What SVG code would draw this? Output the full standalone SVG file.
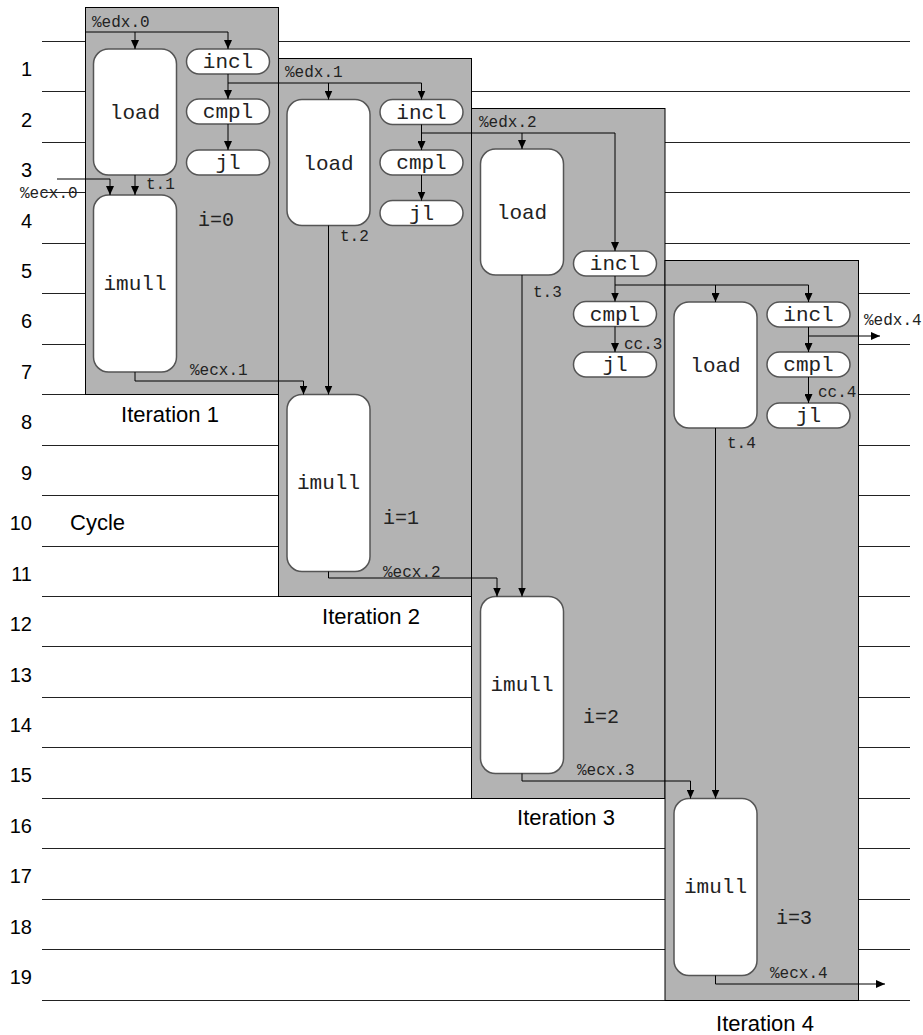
<svg xmlns="http://www.w3.org/2000/svg" width="923" height="1035" viewBox="0 0 923 1035">
<defs>
<style>
.row{stroke:#222;stroke-width:1}
.iter{fill:#b3b3b3;stroke:#000;stroke-width:1}
.op{fill:#fff;stroke:#555;stroke-width:1.5}
.opt{font-family:"Liberation Mono",monospace;font-size:21px;fill:#222;text-anchor:middle}
.lbl{font-family:"Liberation Mono",monospace;font-size:16px;fill:#222}
.idx{font-family:"Liberation Mono",monospace;font-size:20px;fill:#222}
.num{font-family:"Liberation Sans",Arial,sans-serif;font-size:20px;fill:#000;text-anchor:end}
.cap{font-family:"Liberation Sans",Arial,sans-serif;font-size:22px;fill:#000}
.capm{font-family:"Liberation Sans",Arial,sans-serif;font-size:22px;fill:#000;text-anchor:middle}
.wire{fill:none;stroke:#000;stroke-width:1}
</style>
<marker id="arr" markerWidth="9" markerHeight="8" refX="9" refY="4" orient="auto" markerUnits="userSpaceOnUse">
<path d="M0,0 L9,4 L0,8 z" fill="#000"/>
</marker>
</defs>
<rect width="923" height="1035" fill="#fff"/>
<g id="rows">
<line class="row" x1="42" y1="41.5" x2="910" y2="41.5"/>
<line class="row" x1="42" y1="91.5" x2="910" y2="91.5"/>
<line class="row" x1="42" y1="142.5" x2="910" y2="142.5"/>
<line class="row" x1="42" y1="192.5" x2="910" y2="192.5"/>
<line class="row" x1="42" y1="243.5" x2="910" y2="243.5"/>
<line class="row" x1="42" y1="293.5" x2="910" y2="293.5"/>
<line class="row" x1="42" y1="344.5" x2="910" y2="344.5"/>
<line class="row" x1="42" y1="394.5" x2="910" y2="394.5"/>
<line class="row" x1="42" y1="445.5" x2="910" y2="445.5"/>
<line class="row" x1="42" y1="495.5" x2="910" y2="495.5"/>
<line class="row" x1="42" y1="546.5" x2="910" y2="546.5"/>
<line class="row" x1="42" y1="596.5" x2="910" y2="596.5"/>
<line class="row" x1="42" y1="646.5" x2="910" y2="646.5"/>
<line class="row" x1="42" y1="697.5" x2="910" y2="697.5"/>
<line class="row" x1="42" y1="747.5" x2="910" y2="747.5"/>
<line class="row" x1="42" y1="798.5" x2="910" y2="798.5"/>
<line class="row" x1="42" y1="848.5" x2="910" y2="848.5"/>
<line class="row" x1="42" y1="899.5" x2="910" y2="899.5"/>
<line class="row" x1="42" y1="949.5" x2="910" y2="949.5"/>
<line class="row" x1="42" y1="1000.5" x2="910" y2="1000.5"/>
</g>
<g id="row-labels">
<text class="num" x="32" y="76">1</text>
<text class="num" x="32" y="126.5">2</text>
<text class="num" x="32" y="177">3</text>
<text class="num" x="32" y="227.5">4</text>
<text class="num" x="32" y="278">5</text>
<text class="num" x="32" y="328">6</text>
<text class="num" x="32" y="378.5">7</text>
<text class="num" x="32" y="429">8</text>
<text class="num" x="32" y="479.5">9</text>
<text class="num" x="32" y="530">10</text>
<text class="num" x="32" y="580.5">11</text>
<text class="num" x="32" y="631">12</text>
<text class="num" x="32" y="681.5">13</text>
<text class="num" x="32" y="732">14</text>
<text class="num" x="32" y="782">15</text>
<text class="num" x="32" y="832.5">16</text>
<text class="num" x="32" y="883">17</text>
<text class="num" x="32" y="933.5">18</text>
<text class="num" x="32" y="984">19</text>
<text class="cap" x="70" y="530">Cycle</text>
</g>
<g id="iteration1">
<rect class="iter" x="85.5" y="7.5" width="193" height="387"/>
<text class="capm" x="170" y="422">Iteration 1</text>
<text class="idx" x="198" y="226">i=0</text>
</g>
<g id="iteration2">
<rect class="iter" x="278.5" y="58.5" width="193" height="538"/>
<text class="capm" x="371" y="624">Iteration 2</text>
<text class="idx" x="383" y="524">i=1</text>
</g>
<g id="iteration3">
<rect class="iter" x="471.5" y="108.5" width="193.5" height="690"/>
<text class="capm" x="566" y="825">Iteration 3</text>
<text class="idx" x="583" y="723">i=2</text>
</g>
<g id="iteration4">
<rect class="iter" x="665" y="260.5" width="193.5" height="740"/>
<text class="capm" x="765" y="1031">Iteration 4</text>
<text class="idx" x="776" y="924">i=3</text>
</g>
<g id="load1"><rect class="op" x="93.5" y="49" width="83" height="126" rx="15"/><text class="opt" x="135" y="119">load</text></g>
<g id="incl1"><rect class="op" x="186.5" y="49" width="83" height="25" rx="12.5"/><text class="opt" x="228" y="68">incl</text></g>
<g id="cmpl1"><rect class="op" x="186.5" y="99" width="83" height="25" rx="12.5"/><text class="opt" x="228" y="118">cmpl</text></g>
<g id="jl1"><rect class="op" x="186.5" y="150" width="83" height="25" rx="12.5"/><text class="opt" x="228" y="169">jl</text></g>
<g id="imull1"><rect class="op" x="93.5" y="195" width="83" height="177" rx="15"/><text class="opt" x="135" y="289.5">imull</text></g>
<g id="load2"><rect class="op" x="287" y="99.5" width="83" height="126" rx="15"/><text class="opt" x="328.5" y="169.5">load</text></g>
<g id="incl2"><rect class="op" x="380" y="99.5" width="83" height="25" rx="12.5"/><text class="opt" x="421.5" y="118.5">incl</text></g>
<g id="cmpl2"><rect class="op" x="380" y="150" width="83" height="25" rx="12.5"/><text class="opt" x="421.5" y="169">cmpl</text></g>
<g id="jl2"><rect class="op" x="380" y="200.5" width="83" height="25" rx="12.5"/><text class="opt" x="421.5" y="219.5">jl</text></g>
<g id="imull2"><rect class="op" x="287" y="394.5" width="83" height="177" rx="15"/><text class="opt" x="328.5" y="489">imull</text></g>
<g id="load3"><rect class="op" x="480.5" y="149" width="83" height="126" rx="15"/><text class="opt" x="522" y="219">load</text></g>
<g id="incl3"><rect class="op" x="573.5" y="251" width="83" height="25" rx="12.5"/><text class="opt" x="615" y="270">incl</text></g>
<g id="cmpl3"><rect class="op" x="573.5" y="301.5" width="83" height="25" rx="12.5"/><text class="opt" x="615" y="320.5">cmpl</text></g>
<g id="jl3"><rect class="op" x="573.5" y="352" width="83" height="25" rx="12.5"/><text class="opt" x="615" y="371">jl</text></g>
<g id="imull3"><rect class="op" x="480.5" y="596.5" width="83" height="177" rx="15"/><text class="opt" x="522" y="691">imull</text></g>
<g id="load4"><rect class="op" x="674" y="302" width="83" height="126" rx="15"/><text class="opt" x="715.5" y="372">load</text></g>
<g id="incl4"><rect class="op" x="767" y="302" width="83" height="25" rx="12.5"/><text class="opt" x="808.5" y="321">incl</text></g>
<g id="cmpl4"><rect class="op" x="767" y="352" width="83" height="25" rx="12.5"/><text class="opt" x="808.5" y="371">cmpl</text></g>
<g id="jl4"><rect class="op" x="767" y="403" width="83" height="25" rx="12.5"/><text class="opt" x="808.5" y="422">jl</text></g>
<g id="imull4"><rect class="op" x="674" y="798.5" width="83" height="177" rx="15"/><text class="opt" x="715.5" y="893">imull</text></g>
<g id="connectors">
<path class="wire" d="M85,32 H228 V49" marker-end="url(#arr)"/>
<path class="wire" d="M135,32 V49" marker-end="url(#arr)"/>
<path class="wire" d="M228,74 V99" marker-end="url(#arr)"/>
<path class="wire" d="M228,83 H421.5 V99.5" marker-end="url(#arr)"/>
<path class="wire" d="M328.5,83 V99.5" marker-end="url(#arr)"/>
<path class="wire" d="M228,124 V150" marker-end="url(#arr)"/>
<path class="wire" d="M135,175 V195" marker-end="url(#arr)"/>
<path class="wire" d="M57,179 H110 V195" marker-end="url(#arr)"/>
<path class="wire" d="M135,372 V381 H303.5 V394.5" marker-end="url(#arr)"/>
<path class="wire" d="M421.5,124.5 V150" marker-end="url(#arr)"/>
<path class="wire" d="M421.5,133 H615 V251" marker-end="url(#arr)"/>
<path class="wire" d="M522,133 V149" marker-end="url(#arr)"/>
<path class="wire" d="M421.5,175 V200.5" marker-end="url(#arr)"/>
<path class="wire" d="M328.5,225.5 V394.5" marker-end="url(#arr)"/>
<path class="wire" d="M328.5,571.5 V578 H497 V596.5" marker-end="url(#arr)"/>
<path class="wire" d="M615,276 V301.5" marker-end="url(#arr)"/>
<path class="wire" d="M615,285 H808.5 V302" marker-end="url(#arr)"/>
<path class="wire" d="M715.5,285 V302" marker-end="url(#arr)"/>
<path class="wire" d="M615,326.5 V352" marker-end="url(#arr)"/>
<path class="wire" d="M522,275 V596.5" marker-end="url(#arr)"/>
<path class="wire" d="M522,773.5 V781 H690.5 V798.5" marker-end="url(#arr)"/>
<path class="wire" d="M808.5,327 V352" marker-end="url(#arr)"/>
<path class="wire" d="M808.5,336 H880" marker-end="url(#arr)"/>
<path class="wire" d="M808.5,377 V403" marker-end="url(#arr)"/>
<path class="wire" d="M715.5,428 V798.5" marker-end="url(#arr)"/>
<path class="wire" d="M715.5,975.5 V984 H885" marker-end="url(#arr)"/>
</g>
<g id="connector-labels">
<text class="lbl" x="92" y="27">%edx.0</text>
<text class="lbl" x="285" y="77">%edx.1</text>
<text class="lbl" x="479" y="127">%edx.2</text>
<text class="lbl" x="864" y="325">%edx.4</text>
<text class="lbl" x="20" y="198">%ecx.0</text>
<text class="lbl" x="190" y="375">%ecx.1</text>
<text class="lbl" x="383" y="577">%ecx.2</text>
<text class="lbl" x="577" y="775">%ecx.3</text>
<text class="lbl" x="770" y="978">%ecx.4</text>
<text class="lbl" x="146" y="189">t.1</text>
<text class="lbl" x="340" y="241">t.2</text>
<text class="lbl" x="533" y="297">t.3</text>
<text class="lbl" x="727" y="448">t.4</text>
<text class="lbl" x="624" y="349">cc.3</text>
<text class="lbl" x="818" y="397">cc.4</text>
</g>
</svg>
